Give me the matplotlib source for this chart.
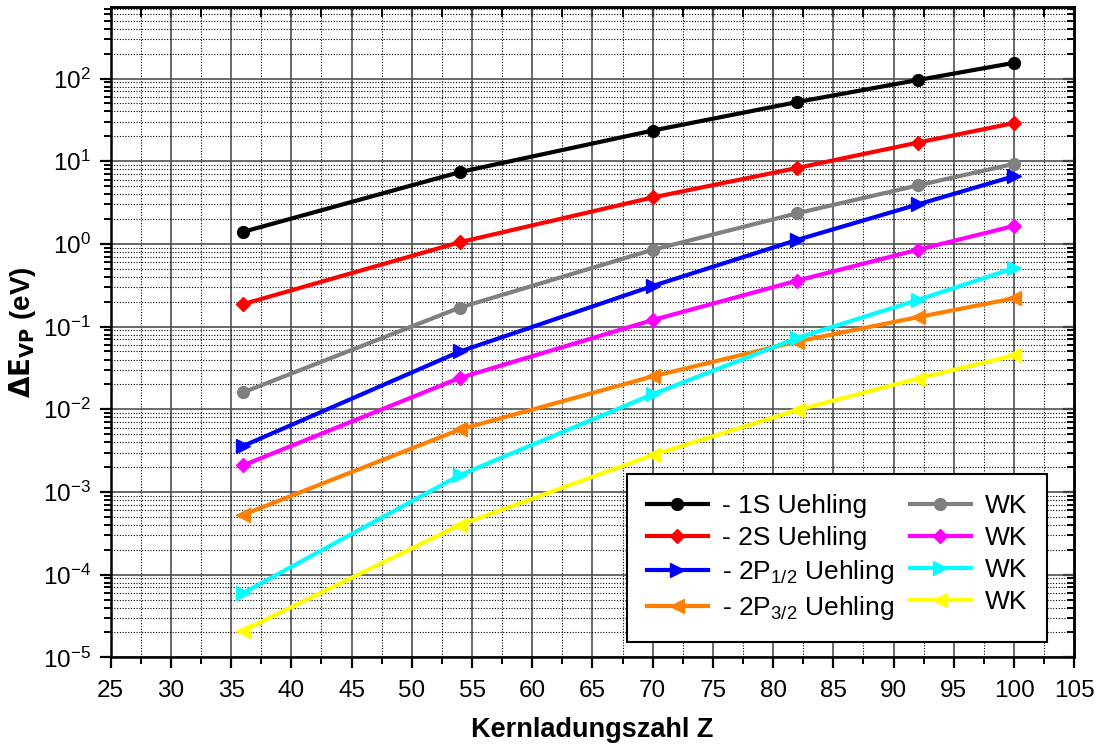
import matplotlib
matplotlib.use("Agg")
import matplotlib.pyplot as plt
from matplotlib.ticker import MultipleLocator, LogLocator, NullFormatter

plt.rcParams['font.family'] = ['Liberation Sans', 'DejaVu Sans']
plt.rcParams['mathtext.default'] = 'regular'

# Kernladungszahl
Z = [36, 54, 70, 82, 92, 100]

# Uehling
u_1s = [1.4, 7.4, 23.5, 52, 96, 155]
u_2s = [0.187, 1.05, 3.65, 8.3, 16.8, 29]
u_2p12 = [0.0036, 0.050, 0.31, 1.12, 3.0, 6.6]
u_2p32 = [0.00053, 0.0057, 0.025, 0.066, 0.13, 0.22]

# WK
wk_1s = [0.0160, 0.170, 0.85, 2.35, 5.1, 9.3]
wk_2s = [0.0021, 0.024, 0.12, 0.36, 0.85, 1.65]
wk_2p12 = [6.0e-5, 0.0016, 0.0152, 0.073, 0.21, 0.51]
wk_2p32 = [2.1e-5, 4.0e-4, 0.0028, 0.0098, 0.0235, 0.045]

fig = plt.figure(figsize=(10.98, 7.44), dpi=100)
ax = fig.add_axes([0.1008, 0.1165, 0.8776, 0.8745])

series = [
    (u_1s, 'black', 'o', 8.5, '- 1S Uehling'),
    (u_2s, 'red', 'D', 7.5, '- 2S Uehling'),
    (u_2p12, 'blue', '>', 9.5, '- 2P$_{1/2}$ Uehling'),
    (u_2p32, '#ff8000', '<', 9.5, '- 2P$_{3/2}$ Uehling'),
    (wk_1s, '#808080', 'o', 8.5, 'WK'),
    (wk_2s, 'magenta', 'D', 7.5, 'WK'),
    (wk_2p12, 'cyan', '>', 9.5, 'WK'),
    (wk_2p32, 'yellow', '<', 9.5, 'WK'),
]
for vals, col, mk, ms, lab in series:
    ax.plot(Z, vals, color=col, marker=mk, markersize=ms, lw=3, label=lab, zorder=3)

ax.set_yscale('log')
ax.set_xlim(25, 105)
ax.set_ylim(1e-5, 7.4e2)

ax.xaxis.set_major_locator(MultipleLocator(5))
ax.xaxis.set_minor_locator(MultipleLocator(2.5))
ax.yaxis.set_major_locator(LogLocator(base=10, numticks=20))
ax.yaxis.set_minor_locator(LogLocator(base=10, subs=range(2, 10), numticks=20))
ax.yaxis.set_minor_formatter(NullFormatter())

ax.grid(which='major', color='#505050', lw=1.2, ls='-', zorder=0)
ax.grid(which='minor', color='black', lw=0.8, ls=(0, (1, 1.5)), zorder=0)
ax.set_axisbelow(True)

ax.tick_params(which='major', direction='out', length=8, width=1.6, labelsize=17.5)
ax.tick_params(axis='x', which='major', pad=8)
ax.tick_params(axis='y', which='major', pad=6)
ax.tick_params(which='minor', direction='out', length=5, width=1.4)
for s in ax.spines.values():
    s.set_linewidth(1.8)

# ticks on top and right, inward
top = ax.secondary_xaxis('top')
top.xaxis.set_major_locator(MultipleLocator(5))
top.xaxis.set_minor_locator(MultipleLocator(2.5))
top.tick_params(which='major', direction='in', length=7, width=1.6, labeltop=False)
top.tick_params(which='minor', direction='in', length=7, width=1.4)
top.spines['top'].set_linewidth(1.8)
right = ax.secondary_yaxis('right')
right.yaxis.set_major_locator(LogLocator(base=10, numticks=20))
right.yaxis.set_minor_locator(LogLocator(base=10, subs=range(2, 10), numticks=20))
right.yaxis.set_minor_formatter(NullFormatter())
right.tick_params(which='major', direction='in', length=8, width=1.6, labelright=False)
right.tick_params(which='minor', direction='in', length=5, width=1.4)
right.spines['right'].set_linewidth(1.8)

ax.set_xlabel('Kernladungszahl Z', fontsize=19.5, fontweight='bold', labelpad=11)
ax.set_ylabel(r'$\mathbf{\Delta E_{VP}}$ (eV)', fontsize=20, fontweight='bold', labelpad=4)

leg = ax.legend(ncol=2, loc='lower right', bbox_to_anchor=(0.972, 0.024),
                fontsize=19, handlelength=2.3, columnspacing=0.6,
                handletextpad=0.55, labelspacing=0.3, borderpad=0.75,
                borderaxespad=0, fancybox=False, framealpha=1, edgecolor='black')
leg.get_frame().set_linewidth(1.5)

fig.savefig('out.png', dpi=100)
